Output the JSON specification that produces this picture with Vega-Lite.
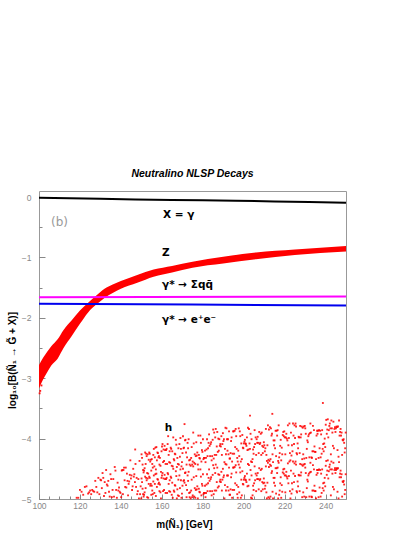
{
"$schema": "https://vega.github.io/schema/vega-lite/v6.json",
"autosize": {"type": "none"},
"padding": {"left": 39, "top": 191, "right": 69, "bottom": 38},
"width": 307,
"height": 308,
"background": "white",
"config": {"view": {"stroke": "#999", "strokeWidth": 1}, "axis": {"grid": false, "labelFlush": false, "labelFont": "Liberation Sans", "labelColor": "#888", "labelFontSize": 8.5, "tickColor": "#888", "titleFont": "Liberation Sans", "titleFontWeight": "bold", "titleFontSize": 10, "titleColor": "black"}},
"title": {"text": "Neutralino NLSP Decays", "font": "Liberation Sans", "fontSize": 10.5, "fontStyle": "italic", "fontWeight": "bold", "anchor": "middle", "baseline": "bottom", "offset": 2},
"datasets": {
"z": [{"m":100,"lo":-3.17,"hi":-2.78},{"m":102,"lo":-3.02,"hi":-2.66},{"m":104,"lo":-2.9,"hi":-2.56},{"m":106,"lo":-2.79,"hi":-2.47},{"m":109,"lo":-2.68,"hi":-2.36},{"m":112,"lo":-2.5,"hi":-2.2},{"m":116,"lo":-2.3,"hi":-2.04},{"m":120,"lo":-2.1,"hi":-1.88},{"m":124,"lo":-1.91,"hi":-1.75},{"m":128,"lo":-1.78,"hi":-1.63},{"m":132,"lo":-1.67,"hi":-1.52},{"m":136,"lo":-1.59,"hi":-1.45},{"m":140,"lo":-1.52,"hi":-1.39},{"m":148,"lo":-1.42,"hi":-1.29},{"m":156,"lo":-1.32,"hi":-1.2},{"m":165,"lo":-1.25,"hi":-1.14},{"m":175,"lo":-1.17,"hi":-1.07},{"m":190,"lo":-1.1,"hi":-0.99},{"m":206,"lo":-1.03,"hi":-0.92},{"m":225,"lo":-0.96,"hi":-0.87},{"m":250,"lo":-0.9,"hi":-0.81}],
"zp": [{"m":100.3,"v":-3.25},{"m":100.6,"v":-3.21},{"m":101.2,"v":-3.12}],
"ln": [{"s":"a","m":100,"v":-0.012},{"s":"a","m":115,"v":-0.02},{"s":"a","m":130,"v":-0.03},{"s":"a","m":147,"v":-0.04},{"s":"a","m":165,"v":-0.05},{"s":"a","m":180,"v":-0.055},{"s":"a","m":196,"v":-0.06},{"s":"a","m":215,"v":-0.072},{"s":"a","m":232,"v":-0.082},{"s":"a","m":250,"v":-0.093},{"s":"b","m":100,"v":-1.66},{"s":"b","m":250,"v":-1.645},{"s":"c","m":100,"v":-1.765},{"s":"c","m":175,"v":-1.78},{"s":"c","m":250,"v":-1.795}],
"lab": [{"m":160.6,"v":-0.29,"t":"X = γ"},{"m":160.1,"v":-0.92,"t":"Z"},{"m":160.1,"v":-1.45,"t":"γ* → Σqq̄"},{"m":160.1,"v":-2.03,"t":"γ* → e⁺e⁻"},{"m":161.5,"v":-3.83,"t":"h"}],
"lab2": [{"m":105.9,"v":-0.42,"t":"(b)"}],
"h": [
{"m":118.4,"v":-4.98},{"m":119.2,"v":-4.98},{"m":120.0,"v":-4.85},{"m":120.8,"v":-4.88},{"m":121.6,"v":-4.93},{"m":122.4,"v":-4.8},{"m":123.2,"v":-4.79},
{"m":124.0,"v":-4.91},{"m":124.5,"v":-4.89},{"m":125.0,"v":-4.86},{"m":125.5,"v":-4.92},{"m":126.0,"v":-4.85},{"m":126.5,"v":-4.87},{"m":127.0,"v":-4.88},{"m":127.5,"v":-4.7},{"m":128.0,"v":-4.8},{"m":128.5,"v":-4.89},{"m":129.0,"v":-4.65},{"m":129.5,"v":-4.92},
{"m":130.0,"v":-4.68},{"m":130.35,"v":-4.69},{"m":130.7,"v":-4.82},{"m":131.05,"v":-4.57},{"m":131.4,"v":-4.65},{"m":131.75,"v":-4.95},{"m":132.1,"v":-4.72},{"m":132.45,"v":-4.9},{"m":132.8,"v":-4.52},{"m":133.15,"v":-4.76},{"m":133.5,"v":-4.78},{"m":133.85,"v":-4.7},{"m":134.2,"v":-4.88},{"m":134.55,"v":-4.96},{"m":134.9,"v":-4.59},{"m":135.25,"v":-4.67},{"m":135.6,"v":-4.97},{"m":135.95,"v":-4.85},{"m":136.3,"v":-4.67},{"m":136.65,"v":-4.96},{"m":137.0,"v":-4.47},{"m":137.35,"v":-4.53},{"m":137.7,"v":-4.85},{"m":138.05,"v":-4.98},{"m":138.4,"v":-4.73},{"m":138.75,"v":-4.86},{"m":139.1,"v":-4.81},{"m":139.45,"v":-4.88},{"m":139.8,"v":-4.9},
{"m":140.15,"v":-4.97},{"m":140.43,"v":-4.53},{"m":140.71,"v":-4.52},{"m":140.99,"v":-4.92},{"m":141.27,"v":-4.52},{"m":141.55,"v":-4.48},{"m":141.83,"v":-4.69},{"m":142.11,"v":-4.8},{"m":142.39,"v":-4.48},{"m":142.67,"v":-4.81},{"m":142.95,"v":-4.58},{"m":143.23,"v":-4.7},{"m":143.51,"v":-4.94},{"m":143.79,"v":-4.75},{"m":144.07,"v":-4.71},{"m":144.35,"v":-4.6},{"m":144.63,"v":-4.36},{"m":144.91,"v":-4.66},{"m":145.19,"v":-4.61},{"m":145.47,"v":-4.85},{"m":145.75,"v":-4.79},{"m":146.03,"v":-4.5},{"m":146.31,"v":-4.63},{"m":146.59,"v":-4.59},{"m":146.87,"v":-4.72},{"m":147.0,"v":-4.18},{"m":147.15,"v":-4.42},{"m":147.43,"v":-4.8},{"m":147.71,"v":-4.65},{"m":147.99,"v":-4.92},{"m":148.27,"v":-4.87},{"m":148.55,"v":-4.67},{"m":148.83,"v":-4.99},{"m":149.11,"v":-4.37},{"m":149.39,"v":-4.92},{"m":149.67,"v":-4.79},{"m":149.95,"v":-4.99},
{"m":150.1,"v":-4.26,"w":-4.66},{"m":150.35,"v":-4.32,"w":-4.72},{"m":150.6,"v":-4.83,"w":-4.43},{"m":150.85,"v":-4.92,"w":-4.52},{"m":151.1,"v":-4.56,"w":-4.96},{"m":151.35,"v":-4.53,"w":-4.93},{"m":151.6,"v":-4.49,"w":-4.89},{"m":151.85,"v":-4.63,"w":-4.23},{"m":152.1,"v":-4.82,"w":-4.42},{"m":152.35,"v":-4.25,"w":-4.65},{"m":152.6,"v":-4.29,"w":-4.69},{"m":152.85,"v":-4.57,"w":-4.97},{"m":153.1,"v":-4.26,"w":-4.66},{"m":153.35,"v":-4.98,"w":-4.58},{"m":153.6,"v":-4.35,"w":-4.75},{"m":153.85,"v":-4.23,"w":-4.63},{"m":154.1,"v":-4.65,"w":-4.25},{"m":154.35,"v":-4.78,"w":-4.38},{"m":154.6,"v":-4.35,"w":-4.75},{"m":154.85,"v":-4.93,"w":-4.53},
{"m":155.1,"v":-4.34,"w":-4.78},{"m":155.35,"v":-4.42,"w":-4.86},{"m":155.6,"v":-4.48,"w":-4.92},{"m":155.85,"v":-4.71,"w":-4.27},{"m":156.1,"v":-4.61,"w":-4.17},{"m":156.35,"v":-4.46,"w":-4.9},{"m":156.6,"v":-4.75,"w":-4.31},{"m":156.85,"v":-4.59,"w":-4.15},{"m":157.1,"v":-4.51,"w":-4.95},{"m":157.35,"v":-4.58,"w":-4.14},{"m":157.6,"v":-4.8,"w":-4.36},{"m":157.85,"v":-4.67,"w":-4.23},{"m":158.1,"v":-4.24,"w":-4.68},{"m":158.35,"v":-4.31,"w":-4.75},{"m":158.6,"v":-4.73,"w":-4.29},{"m":158.85,"v":-4.43,"w":-4.87},{"m":159.1,"v":-4.76,"w":-4.32},{"m":159.35,"v":-4.89,"w":-4.45},{"m":159.6,"v":-4.99,"w":-4.55},{"m":159.85,"v":-4.21,"w":-4.65},
{"m":160.1,"v":-4.13,"w":-4.61},{"m":160.35,"v":-4.57,"w":-4.09},{"m":160.6,"v":-4.39,"w":-4.87},{"m":160.85,"v":-4.18,"w":-4.66},{"m":161.1,"v":-4.37,"w":-4.85},{"m":161.35,"v":-4.12,"w":-4.6},{"m":161.6,"v":-4.67,"w":-4.19},{"m":161.85,"v":-4.42,"w":-4.9},{"m":162.1,"v":-4.67,"w":-4.19},{"m":162.35,"v":-4.17,"w":-4.65},{"m":162.6,"v":-4.9,"w":-4.42},{"m":162.85,"v":-4.57,"w":-4.09},{"m":163.1,"v":-4.59,"w":-3.96},{"m":163.35,"v":-4.75,"w":-4.27},{"m":163.6,"v":-4.39,"w":-4.87},{"m":163.85,"v":-4.21,"w":-4.69},{"m":164.1,"v":-4.88,"w":-4.4},{"m":164.35,"v":-4.63,"w":-4.15},{"m":164.6,"v":-4.65,"w":-4.17},{"m":164.85,"v":-4.93,"w":-4.45},
{"m":165.1,"v":-4.73,"w":-4.21},{"m":165.35,"v":-4.98,"w":-4.46},{"m":165.6,"v":-4.5,"w":-3.98},{"m":165.85,"v":-4.86,"w":-4.34},{"m":166.1,"v":-4.88,"w":-4.36},{"m":166.35,"v":-4.25,"w":-4.77},{"m":166.6,"v":-4.26,"w":-4.78},{"m":166.85,"v":-4.54,"w":-4.02},{"m":167.1,"v":-4.1,"w":-4.62},{"m":167.35,"v":-4.99,"w":-4.47},{"m":167.6,"v":-4.32,"w":-4.84},{"m":167.85,"v":-4.94,"w":-4.42},{"m":168.1,"v":-4.68,"w":-4.16},{"m":168.35,"v":-4.43,"w":-4.95},{"m":168.6,"v":-4.09,"w":-4.61},{"m":168.85,"v":-4.82,"w":-4.3},{"m":169.1,"v":-4.51,"w":-3.99},{"m":169.35,"v":-4.17,"w":-4.69},{"m":169.6,"v":-4.46,"w":-4.98},{"m":169.85,"v":-4.91,"w":-4.39},
{"m":170.1,"v":-4.78,"w":-4.24},{"m":170.35,"v":-3.96,"w":-4.5},{"m":170.6,"v":-4.7,"w":-4.16},{"m":170.85,"v":-4.69,"w":-4.15},{"m":171.1,"v":-4.73,"w":-3.76},{"m":171.35,"v":-4.57,"w":-4.03},{"m":171.6,"v":-4.02,"w":-4.56},{"m":171.85,"v":-4.23,"w":-4.77},{"m":172.1,"v":-4.43,"w":-4.97},{"m":172.35,"v":-4.31,"w":-4.85},{"m":172.6,"v":-4.61,"w":-4.07},{"m":172.85,"v":-4.16,"w":-4.7},{"m":173.1,"v":-4.01,"w":-4.55},{"m":173.35,"v":-4.36,"w":-4.9},{"m":173.6,"v":-4.97,"w":-4.43},{"m":173.85,"v":-4.35,"w":-4.89},{"m":174.1,"v":-4.99,"w":-4.45},{"m":174.35,"v":-4.86,"w":-4.32},{"m":174.6,"v":-4.68,"w":-4.14},{"m":174.85,"v":-4.43,"w":-4.97},
{"m":175.1,"v":-4.94,"w":-4.38},{"m":175.35,"v":-4.46,"w":-3.9},{"m":175.6,"v":-4.08,"w":-4.64},{"m":175.85,"v":-4.96,"w":-4.4},{"m":176.1,"v":-4.26,"w":-4.82},{"m":176.35,"v":-4.42,"w":-4.98},{"m":176.6,"v":-4.85,"w":-4.29},{"m":176.85,"v":-4.06,"w":-4.62},{"m":177.1,"v":-4.84,"w":-4.28},{"m":177.35,"v":-4.23,"w":-4.79},{"m":177.6,"v":-4.43,"w":-4.99},{"m":177.85,"v":-3.95,"w":-4.51},{"m":178.1,"v":-4.83,"w":-4.27},{"m":178.35,"v":-4.88,"w":-4.32},{"m":178.6,"v":-4.33,"w":-4.89},{"m":178.85,"v":-3.95,"w":-4.51},{"m":179.1,"v":-4.63,"w":-4.07},{"m":179.35,"v":-4.94,"w":-4.38},{"m":179.6,"v":-4.19,"w":-4.75},{"m":179.85,"v":-4.22,"w":-4.78},
{"m":180.1,"v":-4.59,"w":-4.01},{"m":180.35,"v":-4.34,"w":-4.92},{"m":180.6,"v":-4.32,"w":-4.9},{"m":180.85,"v":-4.32,"w":-4.9},{"m":181.1,"v":-4.78,"w":-4.2},{"m":181.35,"v":-4.39,"w":-4.97},{"m":181.6,"v":-4.9,"w":-4.32},{"m":181.85,"v":-4.76,"w":-4.18},{"m":182.1,"v":-4.01,"w":-4.59},{"m":182.35,"v":-4.87,"w":-4.29},{"m":182.6,"v":-4.16,"w":-4.74},{"m":182.85,"v":-4.07,"w":-4.65},{"m":183.1,"v":-3.93,"w":-4.51},{"m":183.35,"v":-4.7,"w":-4.12},{"m":183.6,"v":-4.87,"w":-4.29},{"m":183.85,"v":-4.09,"w":-4.67},{"m":184.1,"v":-4.64,"w":-4.06},{"m":184.35,"v":-4.94,"w":-4.36},{"m":184.6,"v":-4.87,"w":-4.29},{"m":184.85,"v":-4.02,"w":-4.6},
{"m":185.1,"v":-4.44,"w":-3.85},{"m":185.35,"v":-4.92,"w":-4.33},{"m":185.6,"v":-4.49,"w":-3.9},{"m":185.85,"v":-4.27,"w":-4.86},{"m":186.1,"v":-4.57,"w":-3.98},{"m":186.35,"v":-3.84,"w":-4.43},{"m":186.6,"v":-4.27,"w":-4.86},{"m":186.85,"v":-4.13,"w":-4.72},{"m":187.1,"v":-3.89,"w":-4.48},{"m":187.35,"v":-4.22,"w":-4.81},{"m":187.6,"v":-4.59,"w":-4.0},{"m":187.85,"v":-4.79,"w":-4.2},{"m":188.1,"v":-4.01,"w":-4.6},{"m":188.35,"v":-4.12,"w":-4.71},{"m":188.6,"v":-4.68,"w":-4.09},{"m":188.85,"v":-4.72,"w":-4.13},{"m":189.1,"v":-3.96,"w":-4.55},{"m":189.35,"v":-4.86,"w":-4.27},{"m":189.6,"v":-4.68,"w":-4.09},{"m":189.85,"v":-3.91,"w":-4.5},
{"m":190.1,"v":-4.04,"w":-4.64},{"m":190.35,"v":-4.01,"w":-4.61},{"m":190.6,"v":-4.99,"w":-4.39},{"m":190.85,"v":-4.77,"w":-4.17},{"m":191.1,"v":-4.42,"w":-3.82},{"m":191.35,"v":-4.86,"w":-4.26},{"m":191.6,"v":-3.83,"w":-4.43},{"m":191.85,"v":-4.61,"w":-4.01},{"m":192.1,"v":-4.2,"w":-4.8},{"m":192.35,"v":-4.61,"w":-4.01},{"m":192.6,"v":-4.26,"w":-4.86},{"m":192.85,"v":-4.48,"w":-3.88},{"m":193.1,"v":-4.93,"w":-4.33},{"m":193.35,"v":-4.33,"w":-4.93},{"m":193.6,"v":-4.24,"w":-4.84},{"m":193.85,"v":-4.64,"w":-4.04},{"m":194.1,"v":-3.98,"w":-4.58},{"m":194.35,"v":-4.98,"w":-4.38},{"m":194.6,"v":-4.85,"w":-4.25},{"m":194.85,"v":-3.88,"w":-4.48},
{"m":195.1,"v":-3.88,"w":-4.48},{"m":195.35,"v":-4.25,"w":-4.85},{"m":195.6,"v":-3.87,"w":-4.47},{"m":195.85,"v":-4.74,"w":-4.14},{"m":196.1,"v":-4.44,"w":-3.84},{"m":196.35,"v":-4.56,"w":-3.96},{"m":196.6,"v":-4.77,"w":-4.17},{"m":196.85,"v":-4.92,"w":-4.32},{"m":197.1,"v":-4.98,"w":-4.38},{"m":197.35,"v":-4.8,"w":-4.2},{"m":197.6,"v":-3.83,"w":-4.43},{"m":197.85,"v":-4.29,"w":-4.89},{"m":198.1,"v":-3.88,"w":-4.48},{"m":198.35,"v":-4.56,"w":-3.96},{"m":198.6,"v":-4.98,"w":-4.38},{"m":198.85,"v":-4.08,"w":-4.68},{"m":199.1,"v":-4.94,"w":-4.34},{"m":199.35,"v":-4.54,"w":-3.94},{"m":199.6,"v":-4.75,"w":-4.15},{"m":199.85,"v":-4.16,"w":-4.76},
{"m":200.1,"v":-4.08,"w":-4.68},{"m":200.35,"v":-4.65,"w":-4.05},{"m":200.6,"v":-4.62,"w":-4.02},{"m":200.85,"v":-4.08,"w":-4.68},{"m":201.1,"v":-4.09,"w":-4.69},{"m":201.35,"v":-4.72,"w":-4.12},{"m":201.6,"v":-3.98,"w":-4.58},{"m":201.85,"v":-4.19,"w":-4.79},{"m":202.1,"v":-4.42,"w":-3.82},{"m":202.35,"v":-4.78,"w":-4.18},{"m":202.6,"v":-4.44,"w":-3.84},{"m":202.85,"v":-4.08,"w":-4.68},{"m":203.1,"v":-4.17,"w":-3.62},{"m":203.35,"v":-4.52,"w":-3.92},{"m":203.6,"v":-4.38,"w":-4.98},{"m":203.85,"v":-4.61,"w":-4.01},{"m":204.1,"v":-4.99,"w":-4.39},{"m":204.35,"v":-4.94,"w":-4.34},{"m":204.6,"v":-4.18,"w":-4.78},{"m":204.85,"v":-4.85,"w":-4.25},
{"m":205.1,"v":-4.14,"w":-4.74},{"m":205.35,"v":-4.46,"w":-3.86},{"m":205.6,"v":-4.69,"w":-4.09},{"m":205.85,"v":-4.58,"w":-3.98},{"m":206.1,"v":-4.27,"w":-4.87},{"m":206.35,"v":-4.01,"w":-4.61},{"m":206.6,"v":-4.07,"w":-4.67},{"m":206.85,"v":-3.97,"w":-4.57},{"m":207.1,"v":-4.07,"w":-4.67},{"m":207.35,"v":-4.84,"w":-4.24},{"m":207.6,"v":-4.49,"w":-3.89},{"m":207.85,"v":-4.09,"w":-4.69},{"m":208.1,"v":-4.07,"w":-4.67},{"m":208.35,"v":-3.92,"w":-4.52},{"m":208.6,"v":-4.27,"w":-4.87},{"m":208.85,"v":-3.9,"w":-4.5},{"m":209.1,"v":-4.12,"w":-4.72},{"m":209.35,"v":-4.24,"w":-4.84},{"m":209.6,"v":-4.14,"w":-4.74},{"m":209.85,"v":-4.06,"w":-4.66},
{"m":210.1,"v":-4.11,"w":-4.73},{"m":210.35,"v":-4.83,"w":-4.21},{"m":210.6,"v":-4.16,"w":-4.78},{"m":210.85,"v":-4.46,"w":-3.84},{"m":211.1,"v":-4.89,"w":-4.27},{"m":211.35,"v":-4.99,"w":-4.37},{"m":211.6,"v":-4.73,"w":-4.11},{"m":211.85,"v":-4.4,"w":-3.78},{"m":212.1,"v":-4.35,"w":-4.97},{"m":212.35,"v":-4.47,"w":-3.85},{"m":212.6,"v":-4.99,"w":-4.37},{"m":212.85,"v":-4.43,"w":-3.81},{"m":213.1,"v":-4.34,"w":-4.96},{"m":213.35,"v":-3.83,"w":-4.45},{"m":213.6,"v":-3.95,"w":-4.57},{"m":213.85,"v":-4.54,"w":-3.92},{"m":214.0,"v":-3.59},{"m":214.1,"v":-4.88,"w":-4.26},{"m":214.35,"v":-4.39,"w":-4.99},{"m":214.6,"v":-4.03,"w":-4.65},{"m":214.85,"v":-4.73,"w":-4.11},
{"m":215.1,"v":-4.03,"w":-4.65},{"m":215.35,"v":-4.16,"w":-4.78},{"m":215.6,"v":-3.87,"w":-4.49},{"m":215.85,"v":-4.29,"w":-4.91},{"m":216.1,"v":-3.87,"w":-4.49},{"m":216.35,"v":-4.57,"w":-3.95},{"m":216.6,"v":-4.48,"w":-3.86},{"m":216.85,"v":-4.99,"w":-4.37},{"m":217.1,"v":-3.78,"w":-4.4},{"m":217.35,"v":-4.31,"w":-4.93},{"m":217.6,"v":-4.86,"w":-4.24},{"m":217.85,"v":-4.74,"w":-4.12},{"m":218.1,"v":-4.64,"w":-4.02},{"m":218.35,"v":-4.98,"w":-4.36},{"m":218.6,"v":-4.77,"w":-4.15},{"m":218.85,"v":-4.26,"w":-4.88},{"m":219.1,"v":-3.94,"w":-4.56},{"m":219.35,"v":-4.51,"w":-3.89},{"m":219.6,"v":-4.58,"w":-3.96},{"m":219.85,"v":-4.5,"w":-3.88},
{"m":220.1,"v":-3.98,"w":-4.61},{"m":220.35,"v":-4.26,"w":-4.89},{"m":220.6,"v":-3.98,"w":-4.61},{"m":220.85,"v":-4.55,"w":-3.92},{"m":221.1,"v":-4.63,"w":-4.0},{"m":221.35,"v":-4.03,"w":-4.66},{"m":221.6,"v":-4.41,"w":-3.78},{"m":221.85,"v":-4.11,"w":-4.74},{"m":222.1,"v":-4.62,"w":-3.99},{"m":222.35,"v":-3.75,"w":-4.38},{"m":222.6,"v":-4.24,"w":-4.87},{"m":222.85,"v":-4.36,"w":-4.99},{"m":223.1,"v":-3.9,"w":-4.53},{"m":223.35,"v":-4.91,"w":-4.28},{"m":223.6,"v":-4.74,"w":-4.11},{"m":223.85,"v":-4.84,"w":-4.21},{"m":224.1,"v":-4.38,"w":-3.75},{"m":224.35,"v":-3.95,"w":-4.58},{"m":224.6,"v":-4.09,"w":-4.72},{"m":224.85,"v":-3.78,"w":-4.41},
{"m":225.1,"v":-3.99,"w":-4.62},{"m":225.35,"v":-4.38,"w":-3.75},{"m":225.6,"v":-3.8,"w":-4.43},{"m":225.85,"v":-4.87,"w":-4.24},{"m":226.1,"v":-4.26,"w":-4.89},{"m":226.35,"v":-4.08,"w":-4.71},{"m":226.6,"v":-4.79,"w":-4.16},{"m":226.85,"v":-4.6,"w":-3.97},{"m":227.1,"v":-3.98,"w":-4.61},{"m":227.35,"v":-4.24,"w":-4.87},{"m":227.6,"v":-3.79,"w":-4.42},{"m":227.85,"v":-4.61,"w":-3.98},{"m":228.1,"v":-3.93,"w":-4.56},{"m":228.35,"v":-3.8,"w":-4.43},{"m":228.6,"v":-4.97,"w":-4.34},{"m":228.85,"v":-4.45,"w":-3.82},{"m":229.1,"v":-4.26,"w":-4.89},{"m":229.35,"v":-4.43,"w":-3.8},{"m":229.6,"v":-4.33,"w":-4.96},{"m":229.85,"v":-4.42,"w":-3.79},
{"m":230.1,"v":-3.83,"w":-4.48},{"m":230.35,"v":-3.92,"w":-4.57},{"m":230.6,"v":-4.97,"w":-4.32},{"m":230.85,"v":-4.17,"w":-4.82},{"m":231.1,"v":-4.68,"w":-4.03},{"m":231.35,"v":-4.71,"w":-4.06},{"m":231.6,"v":-4.61,"w":-3.96},{"m":231.85,"v":-3.93,"w":-4.58},{"m":232.1,"v":-4.31,"w":-4.96},{"m":232.35,"v":-4.56,"w":-3.91},{"m":232.6,"v":-4.4,"w":-3.75},{"m":232.85,"v":-3.9,"w":-4.55},{"m":233.1,"v":-4.96,"w":-4.31},{"m":233.35,"v":-4.32,"w":-4.97},{"m":233.6,"v":-4.21,"w":-4.86},{"m":233.85,"v":-3.79,"w":-4.44},{"m":234.1,"v":-4.86,"w":-4.21},{"m":234.35,"v":-3.86,"w":-4.51},{"m":234.6,"v":-4.78,"w":-4.13},{"m":234.85,"v":-4.87,"w":-4.22},
{"m":235.1,"v":-4.87,"w":-4.22},{"m":235.35,"v":-4.99,"w":-4.34},{"m":235.6,"v":-4.6,"w":-3.95},{"m":235.85,"v":-4.52,"w":-3.87},{"m":236.1,"v":-3.92,"w":-4.57},{"m":236.35,"v":-3.87,"w":-4.52},{"m":236.6,"v":-4.32,"w":-4.97},{"m":236.85,"v":-3.86,"w":-4.51},{"m":237.1,"v":-4.16,"w":-4.81},{"m":237.35,"v":-3.87,"w":-4.52},{"m":237.6,"v":-4.31,"w":-4.96},{"m":237.85,"v":-4.58,"w":-3.93},{"m":238.1,"v":-4.9,"w":-4.25},{"m":238.35,"v":-4.51,"w":-3.86},{"m":238.6,"v":-4.82,"w":-4.17},{"m":238.7,"v":-3.41},{"m":238.85,"v":-4.74,"w":-4.09},{"m":239.1,"v":-4.21,"w":-4.86},{"m":239.35,"v":-4.08,"w":-4.73},{"m":239.6,"v":-4.0,"w":-4.65},{"m":239.85,"v":-4.14,"w":-4.79},
{"m":240.1,"v":-3.77,"w":-4.45},{"m":240.35,"v":-4.37,"w":-3.69},{"m":240.6,"v":-4.6,"w":-3.92},{"m":240.85,"v":-4.53,"w":-3.85},{"m":241.1,"v":-3.68,"w":-4.36},{"m":241.35,"v":-4.66,"w":-3.98},{"m":241.6,"v":-4.54,"w":-3.86},{"m":241.85,"v":-3.79,"w":-4.47},{"m":242.1,"v":-4.43,"w":-3.75},{"m":242.35,"v":-3.83,"w":-4.51},{"m":242.6,"v":-4.26,"w":-4.94},{"m":242.85,"v":-4.38,"w":-3.7},{"m":243.1,"v":-3.83,"w":-4.51},{"m":243.35,"v":-4.58,"w":-3.9},{"m":243.6,"v":-4.8,"w":-4.12},{"m":243.85,"v":-3.72,"w":-4.4},{"m":244.1,"v":-4.16,"w":-4.84},{"m":244.35,"v":-3.84,"w":-4.52},{"m":244.6,"v":-4.49,"w":-3.81},{"m":244.85,"v":-3.89,"w":-4.57},
{"m":245.1,"v":-4.52,"w":-3.83},{"m":245.35,"v":-4.49,"w":-3.8},{"m":245.6,"v":-3.81,"w":-4.5},{"m":245.85,"v":-4.19,"w":-4.88},{"m":246.1,"v":-4.49,"w":-3.8},{"m":246.35,"v":-4.3,"w":-4.99},{"m":246.6,"v":-3.7,"w":-4.39},{"m":246.85,"v":-3.95,"w":-4.64},{"m":247.1,"v":-3.89,"w":-4.58},{"m":247.35,"v":-3.84,"w":-4.53},{"m":247.6,"v":-3.95,"w":-4.64},{"m":247.85,"v":-3.9,"w":-4.59},{"m":248.1,"v":-4.27,"w":-4.96},{"m":248.35,"v":-4.71,"w":-4.02},{"m":248.6,"v":-4.03,"w":-4.72},{"m":248.85,"v":-4.7,"w":-4.01},{"m":249.1,"v":-4.07,"w":-4.76},{"m":249.35,"v":-4.92,"w":-4.23},{"m":249.6,"v":-4.16,"w":-4.85},{"m":249.85,"v":-4.59,"w":-3.9}
]
},
"resolve": {"axis": {"x": "independent", "y": "independent"}},
"layer": [
{"data": {"name": "z"}, "mark": {"type": "area", "color": "#ff0000", "interpolate": "monotone"},
 "encoding": {
  "x": {"field": "m", "type": "quantitative", "scale": {"domain": [100, 250], "nice": false, "zero": false},
        "axis": {"orient": "bottom", "values": [100,105,110,115,120,125,130,135,140,145,150,155,160,165,170,175,180,185,190,195,200,205,210,215,220,225,230,235,240,245,250], "labels": false, "domain": false, "tickSize": -3, "title": null}},
  "y": {"field": "lo", "type": "quantitative", "scale": {"domain": [-5, 0.1], "nice": false, "zero": false},
        "axis": {"orient": "left", "values": [0,-0.5,-1,-1.5,-2,-2.5,-3,-3.5,-4,-4.5,-5], "labels": false, "domain": false, "tickSize": -3, "title": null}},
  "y2": {"field": "hi"}}},
{"data": {"name": "zp"}, "mark": {"type": "square", "size": 3.5, "color": "#ff0000", "opacity": 0.9},
 "encoding": {"x": {"field": "m", "type": "quantitative", "axis": null}, "y": {"field": "v", "type": "quantitative", "axis": null}}},
{"data": {"name": "h"}, "mark": {"type": "square", "size": 3.5, "color": "#ff0000", "opacity": 0.85},
 "encoding": {
  "x": {"field": "m", "type": "quantitative",
        "axis": {"orient": "bottom", "values": [100,120,140,160,180,200,220,240], "ticks": false, "domain": false, "labelPadding": 2, "title": "m(Ñ₁) [GeV]", "titleX": 145, "titleY": 25, "titleBaseline": "middle", "titleAlign": "center"}},
  "y": {"field": "v", "type": "quantitative",
        "axis": {"orient": "left", "values": [0,-1,-2,-3,-4,-5], "ticks": false, "domain": false, "labelPadding": 8, "title": "log₁₀[B(Ñ₁ → G̃ + X)]", "titleX": -27, "titleY": 169, "titleBaseline": "middle", "titleAlign": "center", "titleAngle": -90}}}},
{"data": {"name": "h"}, "mark": {"type": "square", "size": 3.5, "color": "#ff0000", "opacity": 0.85},
 "encoding": {"x": {"field": "m", "type": "quantitative", "axis": null}, "y": {"field": "w", "type": "quantitative", "axis": null}}},
{"data": {"name": "ln"}, "mark": {"type": "line", "strokeWidth": 2},
 "encoding": {
  "x": {"field": "m", "type": "quantitative",
        "axis": {"orient": "bottom", "values": [100,120,140,160,180,200,220,240], "labels": false, "domain": false, "tickSize": -5, "title": null}},
  "y": {"field": "v", "type": "quantitative",
        "axis": {"orient": "left", "values": [0,-1,-2,-3,-4,-5], "labels": false, "domain": false, "tickSize": -6, "title": null}},
  "color": {"field": "s", "type": "nominal", "scale": {"domain": ["a","b","c"], "range": ["#000000","#ff00ff","#0000ee"]}, "legend": null}}},
{"data": {"name": "lab"}, "mark": {"type": "text", "font": "DejaVu Sans", "fontWeight": "bold", "fontSize": 10.5, "align": "left", "baseline": "middle", "color": "black"},
 "encoding": {"x": {"field": "m", "type": "quantitative", "axis": null}, "y": {"field": "v", "type": "quantitative", "axis": null}, "text": {"field": "t"}}},
{"data": {"name": "lab2"}, "mark": {"type": "text", "font": "DejaVu Sans", "fontSize": 12, "align": "left", "baseline": "middle", "color": "#999"},
 "encoding": {"x": {"field": "m", "type": "quantitative", "axis": null}, "y": {"field": "v", "type": "quantitative", "axis": null}, "text": {"field": "t"}}}
]
}
